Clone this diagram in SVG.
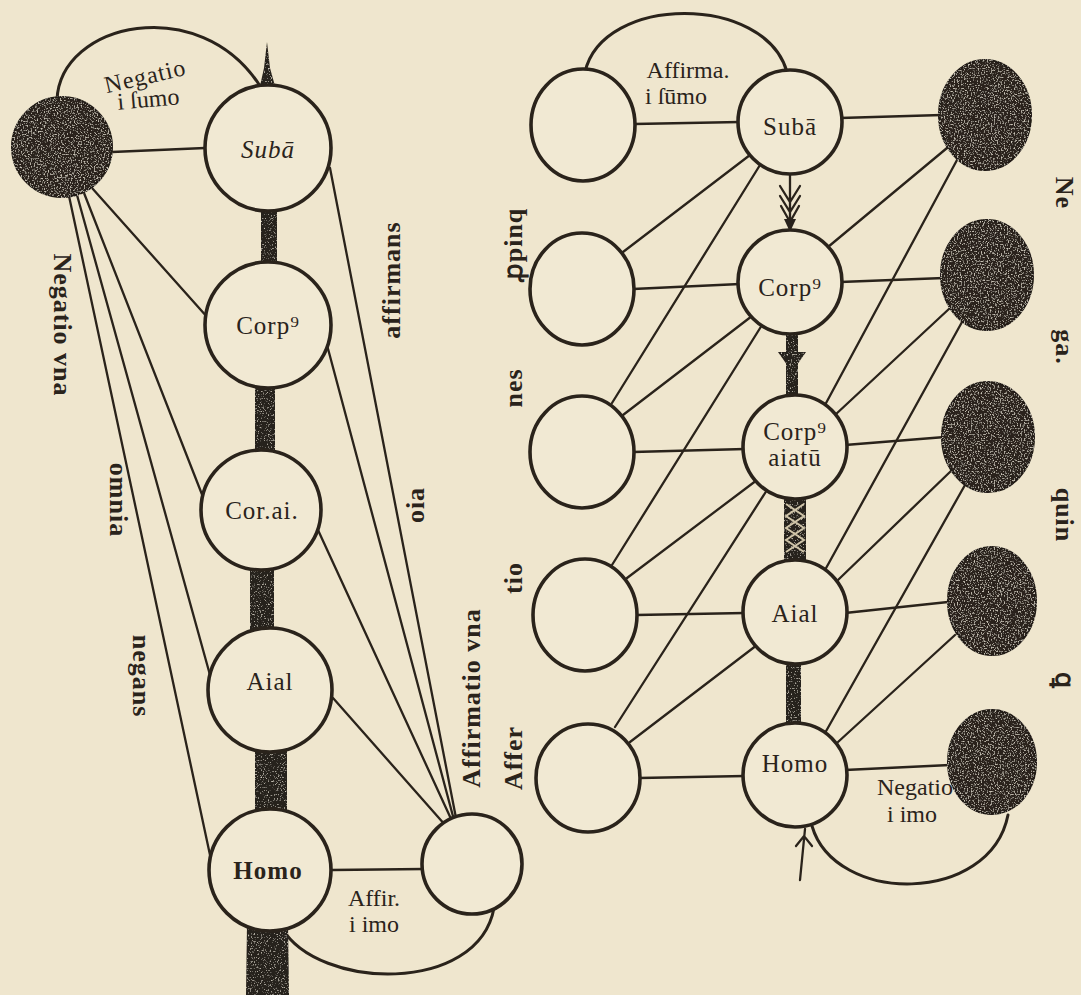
<svg xmlns="http://www.w3.org/2000/svg" width="1081" height="995" viewBox="0 0 1081 995">
<defs>
<filter id="speck" x="-10%" y="-10%" width="120%" height="120%">
<feTurbulence type="fractalNoise" baseFrequency="0.7" numOctaves="2" seed="3" result="n"/>
<feColorMatrix in="n" type="matrix" values="0 0 0 0 0.6  0 0 0 0 0.56  0 0 0 0 0.48  4 0 0 0 -2.15" result="s"/>
<feComposite in="s" in2="SourceGraphic" operator="in" result="sc"/>
<feMerge><feMergeNode in="SourceGraphic"/><feMergeNode in="sc"/></feMerge>
</filter>
<filter id="speck2" x="-10%" y="-10%" width="120%" height="120%">
<feTurbulence type="fractalNoise" baseFrequency="0.7" numOctaves="2" seed="7" result="n"/>
<feColorMatrix in="n" type="matrix" values="0 0 0 0 0.6  0 0 0 0 0.56  0 0 0 0 0.48  4 0 0 0 -2.35" result="s"/>
<feComposite in="s" in2="SourceGraphic" operator="in" result="sc"/>
<feMerge><feMergeNode in="SourceGraphic"/><feMergeNode in="sc"/></feMerge>
</filter>
<style>
.bg{fill:#efe6ce}
.open{fill:#f1e9d3;stroke:#2a231b;stroke-width:3.6}
.dark{fill:#2a241e;stroke:#201a15;stroke-width:2}
.ln{fill:none;stroke:#2a231b;stroke-width:2.3;stroke-linecap:round}
.arc{fill:none;stroke:#2a231b;stroke-width:3;stroke-linecap:round}
.bar{fill:#27211b}
.t{font-family:"Liberation Serif","DejaVu Serif",serif;fill:#2a231b;text-anchor:middle}
.node{font-size:25px;letter-spacing:1px}
.lab{font-size:26px;font-weight:bold;letter-spacing:1px}
.lab2{font-size:24px}
</style>
</defs>
<rect class="bg" x="0" y="0" width="1081" height="995"/>

<g id="connectors">
<!-- left diagram -->
<path class="arc" d="M57,100 C60,22 200,-8 260,86"/>
<path class="ln" d="M112,152 L205,148"/>
<path class="ln" d="M92,188 L208,318"/>
<path class="ln" d="M84,193 L203,497"/>
<path class="ln" d="M77,195 L210,675"/>
<path class="ln" d="M69,196 L210,855"/>
<path class="ln" d="M330,168 L456,818"/>
<path class="ln" d="M327,345 L454,820"/>
<path class="ln" d="M318,530 L452,821"/>
<path class="ln" d="M333,698 L446,826"/>
<path class="ln" d="M332,870 L424,869"/>
<path class="arc" d="M282,928 C318,990 478,995 494,908"/>
<g filter="url(#speck2)">
<polygon class="bar" points="267,42 270,68 275,86 260,86 264,68"/>
<rect class="bar" x="261" y="206" width="16" height="60"/>
<rect class="bar" x="255" y="386" width="20" height="68"/>
<rect class="bar" x="250" y="566" width="24" height="68"/>
<rect class="bar" x="255" y="748" width="32" height="64"/>
<polygon class="bar" points="247,925 288,925 289,995 246,995"/>
</g>
<!-- right diagram -->
<path class="arc" d="M585,72 C603,-6 765,-6 787,72"/>
<path class="arc" d="M812,826 C835,905 990,905 1008,815"/>
<path class="ln" d="M634,124 L740,122"/>
<path class="ln" d="M633,289 L740,284"/>
<path class="ln" d="M633,452 L745,449"/>
<path class="ln" d="M636,615 L745,613"/>
<path class="ln" d="M639,778 L745,776"/>
<path class="ln" d="M840,118 L942,115"/>
<path class="ln" d="M840,282 L944,278"/>
<path class="ln" d="M845,445 L945,437"/>
<path class="ln" d="M845,613 L948,602"/>
<path class="ln" d="M845,770 L950,765"/>
<path class="ln" d="M750,155 L623,252"/>
<path class="ln" d="M760,165 L612,403"/>
<path class="ln" d="M752,316 L623,415"/>
<path class="ln" d="M762,325 L612,565"/>
<path class="ln" d="M757,480 L627,578"/>
<path class="ln" d="M767,490 L615,727"/>
<path class="ln" d="M757,645 L630,742"/>
<path class="ln" d="M947,148 L828,247"/>
<path class="ln" d="M957,160 L825,405"/>
<path class="ln" d="M950,308 L835,415"/>
<path class="ln" d="M962,322 L825,570"/>
<path class="ln" d="M952,470 L838,580"/>
<path class="ln" d="M965,485 L825,733"/>
<path class="ln" d="M955,635 L838,742"/>
<!-- feathered arrow Suba to Corp -->
<path class="ln" d="M790,175 L790,230 M780,186 L790,202 L800,186 M780,196 L790,212 L800,196 M781,206 L790,222 L799,206"/>
<polygon class="bar" points="784,219 796,219 790,232"/>
<g filter="url(#speck2)">
<rect class="bar" x="786" y="334" width="12" height="62"/>
<polygon class="bar" points="778,352 806,352 792,372"/>
<rect class="bar" x="784" y="498" width="22" height="62"/>
<rect class="bar" x="786" y="662" width="15" height="62"/>
</g>
<path d="M786,504 L804,516 L786,528 L804,540 L786,552 M804,504 L786,516 L804,528 L786,540 L804,552" fill="none" stroke="#cfc4a8" stroke-width="2"/>
<path class="ln" d="M800,880 L805,829 M796,846 L804,836 L812,846"/>
</g>

<g id="node-neg-left"><circle class="dark" cx="62" cy="147" r="50" filter="url(#speck)"/></g>
<g id="node-suba-left"><circle class="open" cx="268" cy="148" r="63"/><text class="t node" x="268" y="158" font-style="italic" font-size="30" letter-spacing="3">Subā</text></g>
<g id="node-corp-left"><circle class="open" cx="268" cy="325" r="63"/><text class="t node" x="268" y="334">Corp⁹</text></g>
<g id="node-corai-left"><circle class="open" cx="261" cy="510" r="60"/><text class="t node" x="262" y="519" font-size="26">Cor.ai.</text></g>
<g id="node-aial-left"><circle class="open" cx="270" cy="690" r="62"/><text class="t node" x="270" y="690" font-size="27">Aial</text></g>
<g id="node-homo-left"><circle class="open" cx="270" cy="870" r="61"/><text class="t node" x="268" y="879" font-weight="bold" font-size="26">Homo</text></g>
<g id="node-aff-left"><circle class="open" cx="472" cy="864" r="50"/></g>

<g id="node-l1"><ellipse class="open" cx="583" cy="125" rx="52" ry="56"/></g>
<g id="node-l2"><ellipse class="open" cx="582" cy="289" rx="52" ry="56"/></g>
<g id="node-l3"><ellipse class="open" cx="582" cy="452" rx="52" ry="56"/></g>
<g id="node-l4"><ellipse class="open" cx="585" cy="615" rx="52" ry="56"/></g>
<g id="node-l5"><ellipse class="open" cx="588" cy="778" rx="52" ry="54"/></g>
<g id="node-suba-right"><circle class="open" cx="790" cy="122" r="52"/><text class="t node" x="790" y="135" font-size="27">Subā</text></g>
<g id="node-corp-right"><circle class="open" cx="790" cy="282" r="52"/><text class="t node" x="790" y="296">Corp⁹</text></g>
<g id="node-corpaia-right"><circle class="open" cx="795" cy="447" r="52"/><text class="t node" x="795" y="440" font-size="23">Corp⁹</text><text class="t node" x="795" y="466" font-size="23">aiatū</text></g>
<g id="node-aial-right"><circle class="open" cx="795" cy="612" r="52"/><text class="t node" x="795" y="622">Aial</text></g>
<g id="node-homo-right"><circle class="open" cx="795" cy="775" r="52"/><text class="t node" x="795" y="772">Homo</text></g>
<g id="node-r1"><ellipse class="dark" cx="985" cy="115" rx="46" ry="55" filter="url(#speck)"/></g>
<g id="node-r2"><ellipse class="dark" cx="987" cy="275" rx="46" ry="55" filter="url(#speck)"/></g>
<g id="node-r3"><ellipse class="dark" cx="988" cy="437" rx="46" ry="55" filter="url(#speck)"/></g>
<g id="node-r4"><ellipse class="dark" cx="992" cy="601" rx="44" ry="54" filter="url(#speck)"/></g>
<g id="node-r5"><ellipse class="dark" cx="992" cy="762" rx="44" ry="52" filter="url(#speck)"/></g>

<g id="labels">
<text class="t lab2" transform="translate(147,84) rotate(-13)" font-size="27" letter-spacing="1">Negatio</text>
<text class="t lab2" transform="translate(149,107) rotate(-5)" font-size="25">i ſumo</text>
<text class="t lab" transform="translate(62,325) rotate(90)" dominant-baseline="central" font-size="28" letter-spacing="1.5">Negatio vna</text>
<text class="t lab" transform="translate(118,500) rotate(90)" dominant-baseline="central">omnia</text>
<text class="t lab" transform="translate(141,676) rotate(90)" dominant-baseline="central">negans</text>
<text class="t lab" transform="translate(391,280) rotate(-90)" dominant-baseline="central">affirmans</text>
<text class="t lab" transform="translate(415,505) rotate(-90)" dominant-baseline="central">oia</text>
<text class="t lab" transform="translate(471,698) rotate(-90)" dominant-baseline="central">Affirmatio vna</text>
<text class="t lab2" x="374" y="906" font-size="21">Affir.</text>
<text class="t lab2" x="374" y="932" font-size="21">i imo</text>
<text class="t lab2" x="688" y="78" font-size="25">Affirma.</text>
<text class="t lab2" x="676" y="104" font-size="25">i ſūmo</text>
<text class="t lab2" x="915" y="795">Negatio</text>
<text class="t lab2" x="912" y="822">i imo</text>
<text class="t lab" transform="translate(513,245) rotate(-90)" dominant-baseline="central">ꝓpinq</text>
<text class="t lab" transform="translate(513,388) rotate(-90)" dominant-baseline="central">nes</text>
<text class="t lab" transform="translate(513,578) rotate(-90)" dominant-baseline="central">tio</text>
<text class="t lab" transform="translate(513,758) rotate(-90)" dominant-baseline="central">Affer</text>
<text class="t lab" transform="translate(1064,193) rotate(90)" dominant-baseline="central">Ne</text>
<text class="t lab" transform="translate(1064,347) rotate(90)" dominant-baseline="central">ga.</text>
<text class="t lab" transform="translate(1064,515) rotate(90)" dominant-baseline="central">quin</text>
<text class="t lab" transform="translate(1064,680) rotate(90)" dominant-baseline="central">ꝗ</text>
</g>
</svg>
